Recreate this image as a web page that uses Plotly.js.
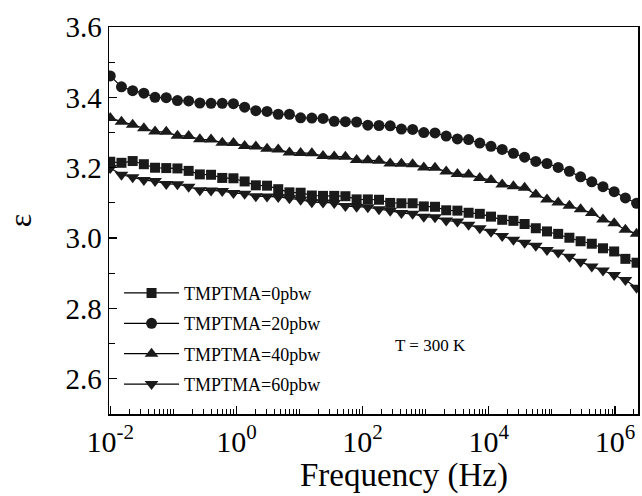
<!DOCTYPE html>
<html>
<head>
<meta charset="utf-8">
<script src="https://cdn.plot.ly/plotly-3.0.1.min.js"></script>
<style>html,body{margin:0;padding:0;background:#fff;}#chart{width:642px;height:496px;}</style>
</head>
<body>
<div id="chart"></div>
<script>
// Frequencies (Hz)
var freq = [0.01, 0.01505, 0.02265, 0.03408, 0.05129, 0.07718, 0.1161, 0.1748, 0.2630, 0.3958,
  0.5957, 0.8964, 1.349, 2.030, 3.055, 4.597, 6.918, 10.41, 15.67, 23.58,
  35.48, 53.39, 80.35, 120.9, 182.0, 273.8, 412.1, 620.2, 933.3, 1404,
  2113, 3181, 4786, 7202, 10839, 16312, 24547, 36940, 55590, 83657,
  125893, 189453, 285102, 429042, 645654, 971628, 1462177, 2200393];

var eps0 = [3.217, 3.214, 3.219, 3.210, 3.200, 3.199, 3.198, 3.191, 3.181, 3.180,
  3.171, 3.170, 3.161, 3.150, 3.149, 3.139, 3.130, 3.129, 3.121, 3.120,
  3.120, 3.119, 3.110, 3.110, 3.109, 3.100, 3.099, 3.099, 3.090, 3.089,
  3.079, 3.078, 3.072, 3.069, 3.061, 3.052, 3.049, 3.040, 3.028, 3.019,
  3.012, 3.001, 2.991, 2.984, 2.971, 2.962, 2.941, 2.930];

var eps20 = [3.461, 3.430, 3.419, 3.412, 3.400, 3.399, 3.391, 3.390, 3.384, 3.383,
  3.383, 3.382, 3.372, 3.362, 3.360, 3.352, 3.352, 3.342, 3.341, 3.340,
  3.332, 3.331, 3.330, 3.321, 3.320, 3.319, 3.310, 3.309, 3.300, 3.299,
  3.290, 3.282, 3.280, 3.270, 3.261, 3.252, 3.241, 3.230, 3.218, 3.212,
  3.201, 3.190, 3.174, 3.160, 3.146, 3.132, 3.114, 3.099];

var eps40 = [3.341, 3.331, 3.322, 3.312, 3.303, 3.302, 3.291, 3.290, 3.281, 3.280,
  3.271, 3.270, 3.262, 3.260, 3.254, 3.252, 3.243, 3.242, 3.241, 3.233,
  3.232, 3.231, 3.222, 3.221, 3.220, 3.212, 3.211, 3.210, 3.201, 3.200,
  3.189, 3.182, 3.181, 3.171, 3.165, 3.152, 3.147, 3.143, 3.124, 3.110,
  3.101, 3.092, 3.082, 3.071, 3.053, 3.042, 3.024, 3.012];

var eps60 = [3.199, 3.180, 3.173, 3.165, 3.162, 3.154, 3.153, 3.146, 3.136, 3.135,
  3.134, 3.128, 3.126, 3.119, 3.118, 3.117, 3.113, 3.109, 3.102, 3.101,
  3.100, 3.091, 3.089, 3.088, 3.082, 3.078, 3.071, 3.069, 3.061, 3.059,
  3.050, 3.047, 3.038, 3.028, 3.018, 3.006, 2.995, 2.987, 2.978, 2.966,
  2.959, 2.947, 2.933, 2.919, 2.908, 2.895, 2.881, 2.859];

var seriesNames = ["TMPTMA=0pbw", "TMPTMA=20pbw", "TMPTMA=40pbw", "TMPTMA=60pbw"];
var xTickVals = [1e-2, 1e0, 1e2, 1e4, 1e6];
var xTickText = ["10<sup>-2</sup>", "10<sup>0</sup>", "10<sup>2</sup>", "10<sup>4</sup>", "10<sup>6</sup>"];
var yTickVals = [2.6, 2.8, 3.0, 3.2, 3.4, 3.6];
var yTickText = ["2.6", "2.8", "3.0", "3.2", "3.4", "3.6"];

var serif = "Liberation Serif, Times New Roman, serif";
var symbols = ["square", "circle", "triangle-up", "triangle-down"];
var sizes = [10, 11, 12, 12];
var ys = [eps0, eps20, eps40, eps60];

var traces = ys.map(function (y, i) {
  return {
    x: freq, y: y, type: "scatter", mode: "lines+markers",
    name: seriesNames[i], legendgroup: "g" + i,
    line: {color: "#000", width: 1.2},
    marker: {symbol: symbols[i], size: sizes[i], color: "#1a1a1a"}
  };
});

var layout = {
  width: 642, height: 496,
  margin: {l: 109, r: 4, t: 27, b: 82},
  paper_bgcolor: "#fff", plot_bgcolor: "#fff",
  font: {family: serif, color: "#000"},
  showlegend: true,
  legend: {
    x: 0.019, y: 0.36, xanchor: "left", yanchor: "top",
    bgcolor: "rgba(0,0,0,0)", font: {family: serif, size: 18, color: "#000"},
    traceorder: "grouped", tracegroupgap: 4, itemwidth: 55
  },
  xaxis: {
    type: "log", range: [-2.02, 6.365],
    tickmode: "array", tickvals: xTickVals, ticktext: xTickText,
    ticks: "inside", ticklen: 8, tickwidth: 1.2, tickcolor: "#000",
    minor: {tickmode: "linear", dtick: "D1", ticks: "inside", ticklen: 5, tickwidth: 1, tickcolor: "#000"},
    showline: true, linecolor: "#000", linewidth: 1.5, mirror: true,
    showgrid: false, zeroline: false,
    tickfont: {family: serif, size: 30, color: "#000"}
  },
  yaxis: {
    range: [2.5, 3.6],
    tickmode: "array", tickvals: yTickVals, ticktext: yTickText,
    ticks: "inside", ticklen: 8, tickwidth: 1.2, tickcolor: "#000",
    minor: {tickmode: "linear", tick0: 2.5, dtick: 0.1, ticks: "inside", ticklen: 6, tickwidth: 1, tickcolor: "#000"},
    showline: true, linecolor: "#000", linewidth: 1.5, mirror: true,
    showgrid: false, zeroline: false,
    tickfont: {family: serif, size: 29, color: "#000"},
    title: {text: "ε", font: {family: serif, size: 32, color: "#000"}, standoff: 24}
  },
  annotations: [
    {text: "T = 300 K", xref: "paper", yref: "paper", x: 0.607, y: 0.176,
     xanchor: "center", yanchor: "middle", showarrow: false,
     font: {family: serif, size: 17, color: "#000"}},
    {text: "Frequency (Hz)", xref: "paper", yref: "paper", x: 0.558, y: -0.2119,
     xanchor: "center", yanchor: "bottom", showarrow: false,
     font: {family: serif, size: 33, color: "#000"}}
  ]
};

Plotly.newPlot("chart", traces, layout, {displayModeBar: false, staticPlot: true});
</script>
</body>
</html>
